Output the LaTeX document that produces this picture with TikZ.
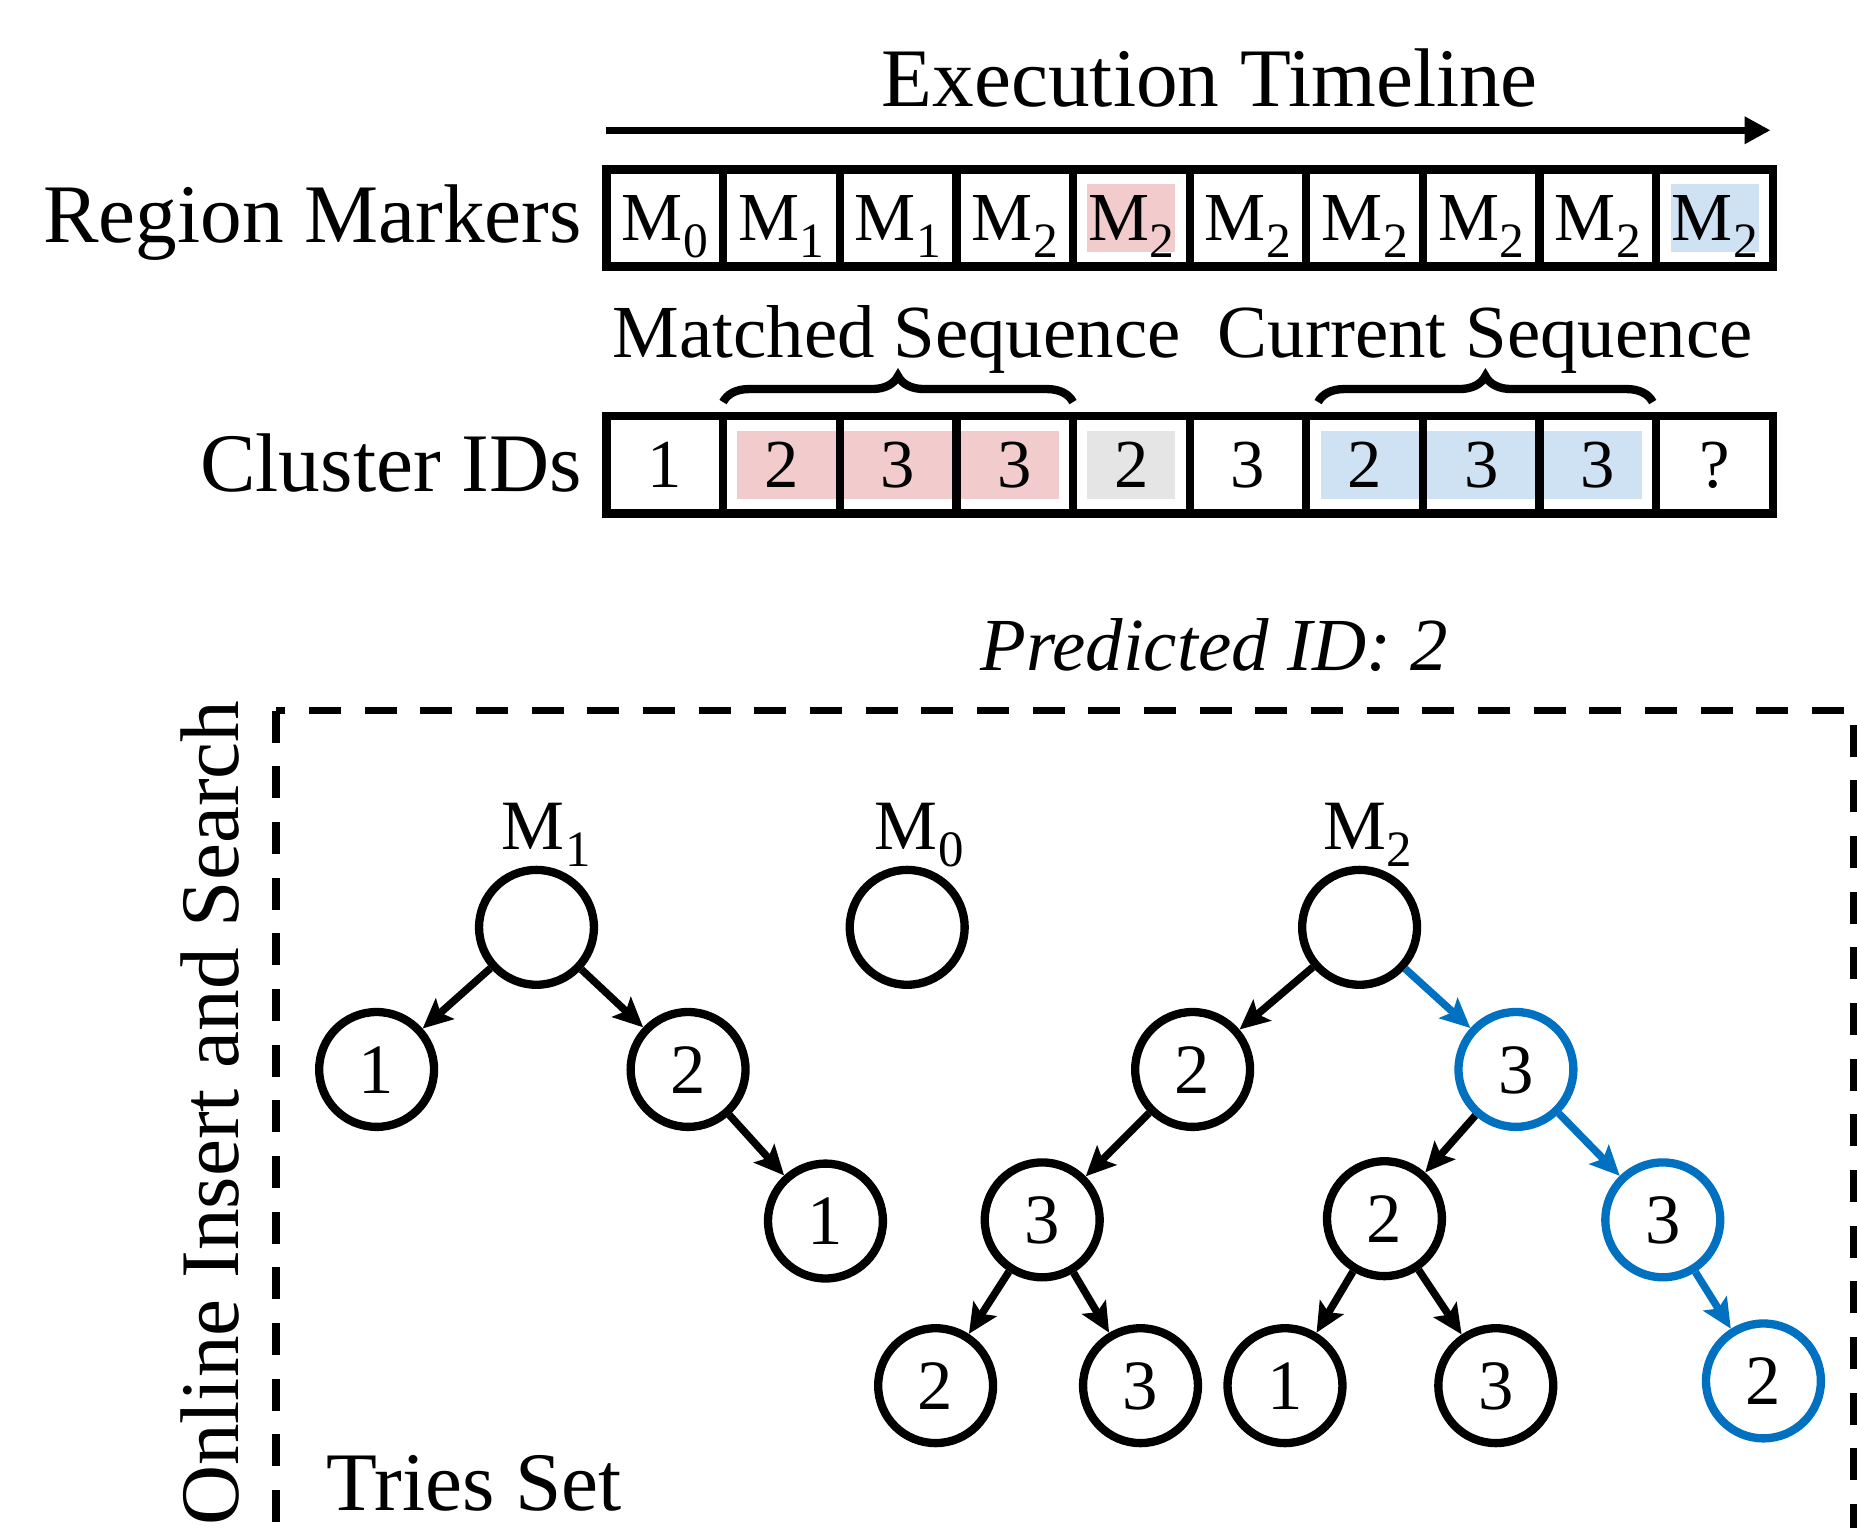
\documentclass[tikz,border=0pt]{standalone}
\usepackage{fontspec}
\setmainfont{Liberation Serif}
\usepackage{tikz}
\usetikzlibrary{arrows.meta,calc,backgrounds,decorations.pathreplacing}
\definecolor{trieblue}{HTML}{0070C0}
\definecolor{hitred}{HTML}{F2CCCD}
\definecolor{curblue}{HTML}{CFE2F3}
\definecolor{skipgray}{HTML}{E5E5E5}
\newcommand{\mk}[1]{M\kern0.01em\raisebox{-0.24em}{\scalebox{0.72}{#1}}}

\begin{document}
\begin{tikzpicture}[
    lbl/.style={font=\fontsize{20}{24}\selectfont, inner sep=0},
    seqlbl/.style={font=\fontsize{18}{22}\selectfont, inner sep=0},
    cell/.style={rectangle, draw, line width=2pt, outer sep=0,
                 minimum width=0.985cm, minimum height=0.82cm,
                 text height=11pt, text depth=0pt, font=\fontsize{16.5}{20}\selectfont},
    tn/.style={circle, draw, line width=2pt, minimum size=0.97cm, inner sep=0,
               text height=11.4pt, text depth=0pt, font=\fontsize{17}{20}\selectfont},
    hot/.style={draw=trieblue},
    link/.style={-{Stealth[length=0.25cm,width=0.23cm,inset=0.05cm]}, line width=1.8pt},
    hotlink/.style={link, draw=trieblue},
    brc/.style={decorate, decoration={brace, amplitude=0.22cm}, line width=2pt}]

\useasboundingbox (0,0) rectangle (15.68,-12.90);
\clip (0,0) rectangle (15.68,-12.90);

% timeline rows
\node[lbl, anchor=base] (timeline) at (10.215,-0.90) {Execution Timeline};
\node[lbl, anchor=base east] (rmlbl) at (4.92,-2.05) {Region Markers};
\node[lbl, anchor=base east] (cidlbl) at (4.92,-4.15) {Cluster IDs};

\foreach \m [count=\i from 0] in {0,1,1,2,2,2,2,2,2,2} {
    \node[cell] (rm\i) at ({5.6125+0.985*\i},-1.84) {\mk{\m}};
}
\foreach \c [count=\i from 0] in {1,2,3,3,2,3,2,3,3,?} {
    \node[cell] (cid\i) at ({5.6125+0.985*\i},-3.925) {\c};
}

\begin{scope}[on background layer]
\fill[hitred] ($(rm4.north west)+(0.12,-0.12)$) rectangle ($(rm4.south east)+(-0.12,0.12)$);
\fill[curblue] ($(rm9.north west)+(0.12,-0.12)$) rectangle ($(rm9.south east)+(-0.12,0.12)$);
\fill[hitred] ($(cid1.north west)+(0.12,-0.12)$) rectangle ($(cid3.south east)+(-0.12,0.12)$);
\fill[skipgray] ($(cid4.north west)+(0.12,-0.12)$) rectangle ($(cid4.south east)+(-0.12,0.12)$);
\fill[curblue] ($(cid6.north west)+(0.12,-0.12)$) rectangle ($(cid8.south east)+(-0.12,0.12)$);
\end{scope}

\draw[-{Triangle[length=0.22cm,width=0.22cm]}, line width=1.8pt]
    ($(rm0.north west)+(0,0.33)$) -- ($(rm9.north east)+(-0.02,0.33)$);

\node[seqlbl, anchor=base] (matched) at (7.57,-3.02) {Matched Sequence};
\node[seqlbl, anchor=base] (current) at (12.54,-3.02) {Current Sequence};
\draw[brc] ($(cid1.north west)+(0,0.12)$) -- ($(cid3.north east)+(0,0.12)$);
\draw[brc] ($(cid6.north west)+(0.1,0.12)$) -- ($(cid8.north east)+(-0.03,0.12)$);

\node[font=\fontsize{18}{22}\selectfont\itshape, anchor=base, inner sep=0] (pred)
    at (10.25,-5.66) {Predicted ID: 2};

% tries set
\draw[dashed, dash pattern=on 0.27cm off 0.2cm, line width=1.8pt]
    (2.33,-6.00) rectangle (15.65,-13.40);
\node[lbl, rotate=90] (online) at (1.77,-9.40) {Online Insert and Search};
\node[lbl, anchor=base west] (tries) at (2.75,-12.75) {Tries Set};

\node[anchor=base, font=\fontsize{17}{20}\selectfont, inner sep=0] (l1) at (4.61,-7.17) {\mk{1}};
\node[anchor=base, font=\fontsize{17}{20}\selectfont, inner sep=0] (l0) at (7.76,-7.17) {\mk{0}};
\node[anchor=base, font=\fontsize{17}{20}\selectfont, inner sep=0] (l2) at (11.55,-7.17) {\mk{2}};

\node[tn] (t1) at (4.53,-7.83) {};
\node[tn] (t1a) at (3.18,-9.03) {1};
\node[tn] (t1b) at (5.81,-9.03) {2};
\node[tn] (t1ba) at (6.97,-10.31) {1};

\node[tn] (t0) at (7.66,-7.83) {};

\node[tn] (t2) at (11.48,-7.83) {};
\node[tn] (t2a) at (10.07,-9.03) {2};
\node[tn, hot] (t2b) at (12.80,-9.03) {3};
\node[tn] (t2aa) at (8.80,-10.30) {3};
\node[tn] (t2aaa) at (7.90,-11.70) {2};
\node[tn] (t2aab) at (9.63,-11.70) {3};
\node[tn] (t2ba) at (11.69,-10.29) {2};
\node[tn, hot] (t2bb) at (14.04,-10.30) {3};
\node[tn] (t2baa) at (10.85,-11.70) {1};
\node[tn] (t2bab) at (12.63,-11.70) {3};
\node[tn, hot] (t2bba) at (14.89,-11.66) {2};

\draw[link] (t1) -- (t1a);
\draw[link] (t1) -- (t1b);
\draw[link] (t1b) -- (t1ba);
\draw[link] (t2) -- (t2a);
\draw[link] (t2a) -- (t2aa);
\draw[link] (t2aa) -- (t2aaa);
\draw[link] (t2aa) -- (t2aab);
\draw[link] (t2b) -- (t2ba);
\draw[link] (t2ba) -- (t2baa);
\draw[link] (t2ba) -- (t2bab);
\draw[hotlink] (t2) -- (t2b);
\draw[hotlink] (t2b) -- (t2bb);
\draw[hotlink] (t2bb) -- (t2bba);
\end{tikzpicture}
\end{document}
